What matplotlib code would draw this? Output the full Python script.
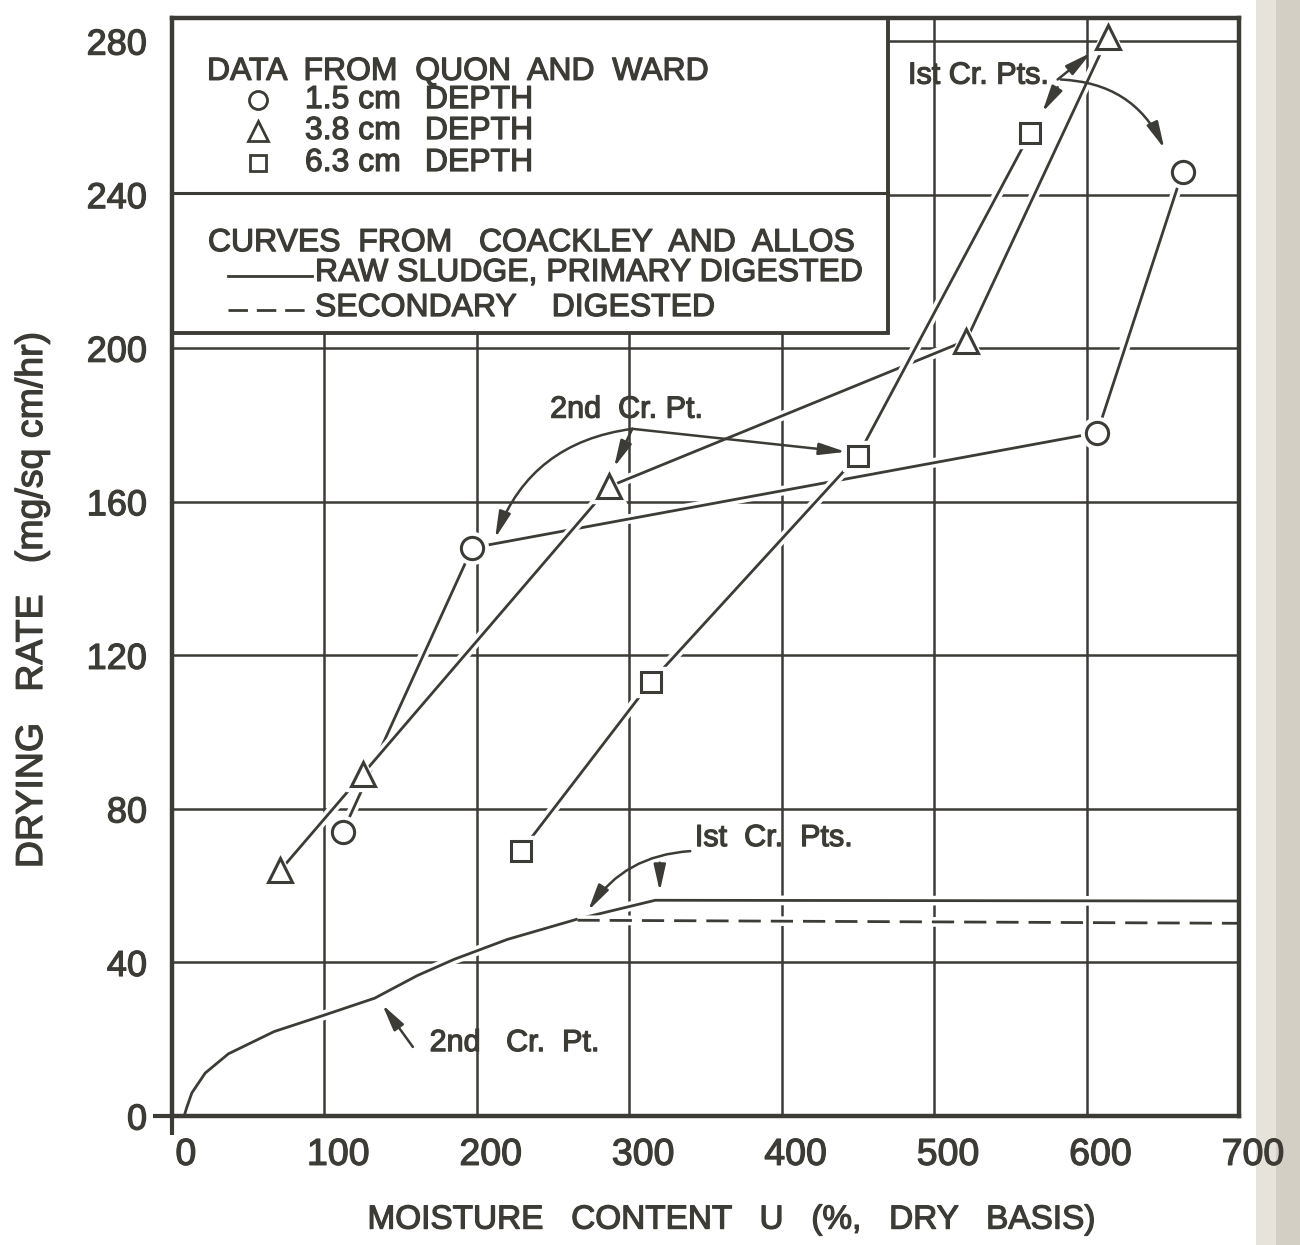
import matplotlib
matplotlib.use("Agg")
import matplotlib.pyplot as plt
import matplotlib.patheffects as pe
from matplotlib.patches import Rectangle
from matplotlib.transforms import ScaledTranslation

INK = "#3c3b35"
TEXT_FONT = ["Liberation Sans", "DejaVu Sans"]

# data from Quon and Ward
circle_x = [112, 197, 607, 663]          # 1.5 cm depth
circle_y = [74, 148, 178, 246]
tri_x = [71, 125, 287, 521, 614]         # 3.8 cm depth
tri_y = [64, 89, 164, 202, 281]
square_x = [229, 314, 450, 563]          # 6.3 cm depth
square_y = [69, 113, 172, 256]

# curves from Coackley and Allos
raw_x = [8, 9.5, 13, 21.8, 37, 67, 100, 133, 161, 185, 220, 266, 317, 700]
raw_y = [0, 2, 6, 11.2, 16.2, 22, 26.3, 30.7, 36.6, 40.8, 46, 51.3, 56.2, 56.0]
sec_x = [266, 700]
sec_y = [51.0, 50.2]

x_ticks = [0, 100, 200, 300, 400, 500, 600, 700]
y_ticks = [0, 40, 80, 120, 160, 200, 240, 280]

halo = [pe.Stroke(linewidth=7, foreground="white"), pe.Normal()]
bold = [pe.withStroke(linewidth=0.9, foreground=INK)]

fig = plt.figure(figsize=(13, 12.45), dpi=100)
ax = fig.add_axes([0.1323, 0.1036, 0.8208, 0.8819])
ax.set_xlim(0, 700)
ax.set_ylim(0, 286)

ax.set_xticks(x_ticks)
ax.set_yticks(y_ticks)
ax.set_xticklabels([str(v) for v in x_ticks], family=TEXT_FONT, fontsize=27, color=INK)
ax.set_yticklabels([str(v) for v in y_ticks], family=TEXT_FONT, fontsize=26, color=INK)
ax.tick_params(which="major", length=0)
ax.tick_params(axis="x", which="major", pad=15)
ax.tick_params(axis="y", which="major", pad=18)
# little stubs at the origin
ax.xaxis.remove_overlapping_locs = False
ax.yaxis.remove_overlapping_locs = False
ax.set_xticks([0], minor=True)
ax.set_yticks([0], minor=True)
ax.tick_params(which="minor", length=14, width=3, color=INK, direction="out")
for lbl in ax.get_xticklabels() + ax.get_yticklabels():
    lbl.set_path_effects(bold)
for lbl in ax.get_xticklabels():
    lbl.set_transform(lbl.get_transform() + ScaledTranslation(10 / 72, 0, fig.dpi_scale_trans))

ax.set_axisbelow(True)
ax.grid(True, color=INK, lw=1.8)
for s in ax.spines.values():
    s.set_linewidth(3.2)
    s.set_color(INK)
    s.set_zorder(7)


def draw_series(x, y, marker, ms):
    ax.plot(x, y, color=INK, lw=2, zorder=4, path_effects=halo)
    ax.plot(x, y, ls="none", marker=marker, ms=ms + 7, mfc="white", mec="white", zorder=5)
    ax.plot(x, y, ls="none", marker=marker, ms=ms, mfc="white", mec=INK, mew=2.2, zorder=6)


draw_series(circle_x, circle_y, "o", 16)
draw_series(tri_x, tri_y, "^", 17)
draw_series(square_x, square_y, "s", 15)

ax.plot(raw_x, raw_y, color=INK, lw=2, zorder=4, path_effects=halo)
ax.plot(sec_x, sec_y, color=INK, lw=2, zorder=4, dashes=(8, 3.6), path_effects=halo)

# legend box
ax.add_patch(Rectangle((0, 204), 470, 82, facecolor="white", edgecolor=INK, lw=2.8, zorder=3))
ax.plot([0, 470], [240.5, 240.5], color=INK, lw=2.2, zorder=3.5)

tkw = dict(transform=ax.transAxes, family=TEXT_FONT, fontsize=23, color=INK, va="center",
           zorder=8, path_effects=bold)
ax.text(0.0328, 0.951, "DATA  FROM  QUON  AND  WARD", **tkw)
rows = [("o", "1.5 cm", 0.9253, 16), ("^", "3.8 cm", 0.8971, 17), ("s", "6.3 cm", 0.868, 15)]
for mk, lab, fy, ms in rows:
    ax.plot([0.0806], [fy], marker=mk, ms=ms - 3, mfc="white", mec=INK, mew=2,
            transform=ax.transAxes, ls="none", zorder=8)
    ax.text(0.1246, fy, lab, **tkw)
    ax.text(0.237, fy, "DEPTH", **tkw)
ax.text(0.0337, 0.795, "CURVES  FROM   COACKLEY  AND  ALLOS", **tkw)
ax.plot([0.0525, 0.1312], [0.765, 0.765], color=INK, lw=2, transform=ax.transAxes, zorder=8)
ax.text(0.134, 0.7678, "RAW SLUDGE, PRIMARY DIGESTED", **tkw)
ax.plot([0.0525, 0.1312], [0.734, 0.734], color=INK, lw=2, dashes=(7, 3.2),
        transform=ax.transAxes, zorder=8)
ax.text(0.134, 0.7359, "SECONDARY    DIGESTED", **tkw)

# critical point annotations
akw = dict(family=TEXT_FONT, fontsize=22, color=INK, va="center", zorder=8, path_effects=bold)


def arrow(start, tip, rad=0.0):
    ax.annotate("", xy=tip, xytext=start, zorder=8,
                arrowprops=dict(arrowstyle="-|>,head_length=0.8,head_width=0.18",
                                color=INK, lw=1.8, mutation_scale=20,
                                shrinkA=0, shrinkB=0,
                                connectionstyle=f"arc3,rad={rad}"))


ax.text(575, 271, "Ist Cr. Pts.", ha="right", **akw)
arrow((581, 270), (603, 277))
arrow((581, 268), (571, 261.5))
arrow((583, 270), (651, 252), rad=-0.3)

ax.text(298, 184, "2nd  Cr. Pt.", ha="center", **akw)
arrow((302, 179), (212, 150.5), rad=0.3)
arrow((302, 179), (290, 169))
arrow((302, 179), (442, 173))

ax.text(343, 72.4, "Ist  Cr.  Pts.", ha="left", **akw)
arrow((340, 69), (273, 53.5), rad=0.25)
arrow((320, 66), (320, 58.5))

ax.text(169, 19, "2nd   Cr.  Pt.", ha="left", **akw)
arrow((158, 18), (138, 29))

fig.text(0.563, 0.02, "MOISTURE   CONTENT   U   (%,   DRY   BASIS)", ha="center", va="center",
         family=TEXT_FONT, fontsize=24, color=INK, path_effects=bold)
fig.text(32 / 1300, 1 - 600 / 1245, "DRYING   RATE   (mg/sq cm/hr)", rotation=90,
         ha="center", va="center", family=TEXT_FONT, fontsize=27, color=INK, path_effects=bold)

# paper edge of the scan
fig.patches.append(Rectangle((1256 / 1300, 0), 20 / 1300, 1, transform=fig.transFigure,
                             facecolor="#e6e3db", edgecolor="none", zorder=-1))
fig.patches.append(Rectangle((1276 / 1300, 0), 24 / 1300, 1, transform=fig.transFigure,
                             facecolor="#d3cfc5", edgecolor="none", zorder=-1))

fig.savefig("out.png", dpi=100, facecolor="white")
